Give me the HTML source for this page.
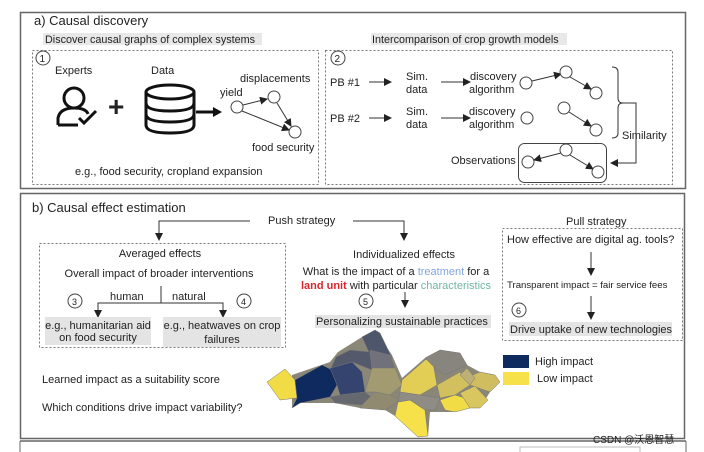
<!DOCTYPE html>
<html><head><meta charset="utf-8"><style>
body{margin:0;background:#fff;width:704px;height:452px;overflow:hidden}
svg{display:block}
text{font-family:"Liberation Sans","Noto Sans CJK SC",sans-serif;fill:#222}
</style></head><body>
<svg width="704" height="452" viewBox="0 0 704 452" xmlns="http://www.w3.org/2000/svg">
<defs>
<marker id="ah" markerWidth="8" markerHeight="8" refX="7" refY="4" orient="auto" markerUnits="userSpaceOnUse"><path d="M0,0 L8,4 L0,8 z" fill="#222"/></marker>
</defs>
<rect x="20.5" y="12.5" width="665" height="176" fill="none" stroke="#666" stroke-width="1.5"/>
<text x="34" y="25" font-size="13">a) Causal discovery</text>
<rect x="43" y="33" width="219" height="12" fill="#e8e8e8"/>
<text x="45" y="43" font-size="10.8">Discover causal graphs of complex systems</text>
<rect x="371" y="33" width="196" height="12" fill="#e8e8e8"/>
<text x="372" y="43" font-size="10.8">Intercomparison of crop growth models</text>
<rect x="32.5" y="50.5" width="286" height="134" fill="none" stroke="#777" stroke-dasharray="2,2"/>
<rect x="325.5" y="50.5" width="347" height="134" fill="none" stroke="#777" stroke-dasharray="2,2"/>
<circle cx="43" cy="58" r="7" fill="#fff" stroke="#444"/><text x="39.5" y="62" font-size="10">1</text>
<text x="55" y="74" font-size="11">Experts</text>
<text x="151" y="74" font-size="11">Data</text>
<circle cx="74" cy="98" r="10" fill="none" stroke="#111" stroke-width="3"/>
<path d="M58,125 L58,118 Q60,108 74,108 Q86,108 88,114" fill="none" stroke="#111" stroke-width="3"/>
<path d="M58,125 L78,125" stroke="#111" stroke-width="3"/>
<path d="M79,118 L84,123 L96,111" fill="none" stroke="#111" stroke-width="3"/>
<text x="108" y="116" font-size="28" font-weight="bold" fill="#111">+</text>
<g fill="none" stroke="#111" stroke-width="3">
<ellipse cx="170" cy="92" rx="24" ry="7"/>
<path d="M146,92 V125 Q146,133 170,133 Q194,133 194,125 V92"/>
<path d="M146,103 Q146,111 170,111 Q194,111 194,103"/>
<path d="M146,114 Q146,122 170,122 Q194,122 194,114"/>
</g>
<line x1="196" y1="112" x2="214" y2="112" stroke="#111" stroke-width="3"/>
<path d="M213,107 L222,112 L213,117z" fill="#111"/>
<text x="220" y="96" font-size="11">yield</text>
<text x="240" y="82" font-size="11">displacements</text>
<text x="252" y="151" font-size="11">food security</text>
<g fill="#fff" stroke="#444"><circle cx="237" cy="107" r="6"/><circle cx="274" cy="97" r="6"/><circle cx="295" cy="132" r="6"/></g>
<g stroke="#333" marker-end="url(#ah)"><line x1="243" y1="105" x2="267" y2="99"/><line x1="277" y1="103" x2="291" y2="126"/><line x1="242" y1="111" x2="289" y2="130"/></g>
<text x="75" y="175" font-size="11">e.g., food security, cropland expansion</text>
<circle cx="338" cy="58" r="7" fill="#fff" stroke="#444"/><text x="334.5" y="62" font-size="10">2</text>
<g font-size="11">
<text x="330" y="86">PB #1</text><text x="330" y="122">PB  #2</text>
<text x="406" y="80">Sim.</text><text x="406" y="93">data</text>
<text x="406" y="115">Sim.</text><text x="406" y="128">data</text>
<text x="470" y="80">discovery</text><text x="469" y="93">algorithm</text>
<text x="469" y="115">discovery</text><text x="469" y="128">algorithm</text>
<text x="622" y="139">Similarity</text>
<text x="451" y="164">Observations</text>
</g>
<g stroke="#333" marker-end="url(#ah)">
<line x1="369" y1="82" x2="391" y2="82"/><line x1="441" y1="82" x2="470" y2="82"/>
<line x1="369" y1="118" x2="391" y2="118"/><line x1="441" y1="118" x2="470" y2="118"/>
<line x1="532" y1="81" x2="561" y2="74"/><line x1="570" y1="77" x2="591" y2="89"/>
<line x1="569" y1="112" x2="591" y2="126"/>
<line x1="561" y1="153" x2="534" y2="160"/><line x1="570" y1="155" x2="593" y2="169"/>
</g>
<g fill="#fff" stroke="#444">
<circle cx="526" cy="83" r="6"/><circle cx="566" cy="72" r="6"/><circle cx="596" cy="93" r="6"/>
<circle cx="527" cy="118" r="6"/><circle cx="564" cy="108" r="6"/><circle cx="596" cy="130" r="6"/>
</g>
<rect x="518.5" y="143.5" width="88" height="39" rx="6" fill="none" stroke="#444"/>
<g fill="#fff" stroke="#444"><circle cx="528" cy="162" r="6"/><circle cx="566" cy="150" r="6"/><circle cx="598" cy="172" r="6"/></g>
<path d="M612,67 Q618,67 618,72 V98 Q618,103 623,103 Q618,103 618,108 V133 Q618,138 612,138" fill="none" stroke="#333"/>
<path d="M623,103 H636 V163 H611" fill="none" stroke="#333" marker-end="url(#ah)"/>
<rect x="20.5" y="193.5" width="664" height="245" fill="none" stroke="#666" stroke-width="1.5"/>
<line x1="20" y1="441" x2="686" y2="441" stroke="#666" stroke-width="1.5"/>
<line x1="20" y1="441" x2="20" y2="452" stroke="#666"/><line x1="686" y1="441" x2="686" y2="452" stroke="#666"/>
<rect x="520" y="447" width="120" height="8" fill="none" stroke="#bbb"/>
<text x="32" y="212" font-size="13">b) Causal effect estimation</text>
<text x="268" y="224" font-size="11">Push strategy</text>
<path d="M250,221 H159 V240" fill="none" stroke="#333" marker-end="url(#ah)"/>
<path d="M353,221 H404 V240" fill="none" stroke="#333" marker-end="url(#ah)"/>
<rect x="39.5" y="243.5" width="246" height="104" fill="none" stroke="#777" stroke-dasharray="2,2"/>
<text x="160" y="257" font-size="11" text-anchor="middle">Averaged effects</text>
<text x="159" y="277" font-size="11" text-anchor="middle">Overall impact of broader interventions</text>
<path d="M161,286 V303" stroke="#333"/>
<path d="M161,303 H98 V317" fill="none" stroke="#333" marker-end="url(#ah)"/>
<path d="M161,303 H223 V317" fill="none" stroke="#333" marker-end="url(#ah)"/>
<text x="110" y="300" font-size="11">human</text><text x="172" y="300" font-size="11">natural</text>
<circle cx="75" cy="301" r="7" fill="#fff" stroke="#444"/><text x="72" y="305" font-size="9">3</text>
<circle cx="244" cy="301" r="7" fill="#fff" stroke="#444"/><text x="241" y="305" font-size="9">4</text>
<rect x="45" y="317" width="106" height="28" fill="#e4e4e4"/>
<rect x="163" y="317" width="118" height="30" fill="#e4e4e4"/>
<text x="98" y="329" font-size="11" text-anchor="middle">e.g., humanitarian aid</text>
<text x="98" y="341" font-size="11" text-anchor="middle">on food security</text>
<text x="222" y="329" font-size="11" text-anchor="middle">e.g., heatwaves on crop</text>
<text x="222" y="343" font-size="11" text-anchor="middle">failures</text>
<text x="404" y="258" font-size="11" text-anchor="middle">Individualized effects</text>
<text x="396" y="275" font-size="11" text-anchor="middle">What is the impact of a <tspan fill="#7fa6e0">treatment</tspan> for a</text>
<text x="396" y="289" font-size="11" text-anchor="middle"><tspan fill="#d8262c" font-weight="bold">land unit</tspan> with particular <tspan fill="#6fb8a0">characteristics</tspan></text>
<line x1="405" y1="292" x2="405" y2="307" stroke="#333" marker-end="url(#ah)"/>
<circle cx="366" cy="301" r="7" fill="#fff" stroke="#444"/><text x="363" y="305" font-size="9">5</text>
<rect x="315" y="315" width="176" height="13" fill="#e4e4e4"/>
<text x="316" y="325" font-size="11">Personalizing sustainable practices</text>
<text x="566" y="225" font-size="11">Pull strategy</text>
<rect x="502.5" y="228.5" width="180" height="112" fill="none" stroke="#777" stroke-dasharray="2,2"/>
<text x="507" y="243" font-size="11">How effective are digital ag. tools?</text>
<line x1="591" y1="252" x2="591" y2="275" stroke="#333" marker-end="url(#ah)"/>
<text x="507" y="288" font-size="9.6">Transparent impact = fair service fees</text>
<line x1="591" y1="296" x2="591" y2="319" stroke="#333" marker-end="url(#ah)"/>
<circle cx="519" cy="310" r="7" fill="#fff" stroke="#444"/><text x="516" y="314" font-size="9">6</text>
<rect x="509" y="322" width="163" height="14" fill="#e4e4e4"/>
<text x="510" y="333" font-size="11">Drive uptake of new technologies</text>
<rect x="503" y="355" width="26" height="13" fill="#0e2a5e"/>
<rect x="503" y="372" width="26" height="13" fill="#f6e14a"/>
<text x="535" y="365" font-size="11">High impact</text>
<text x="537" y="382" font-size="11">Low impact</text>
<text x="42" y="383" font-size="11">Learned impact as a suitability score</text>
<text x="42" y="411" font-size="11">Which conditions drive impact variability?</text>
<!-- map -->
<polygon points="292,375 330,362 338,352 362,337 375,330 392,355 402,378 425,358 440,350 460,353 467,365 480,372 495,375 500,382 490,392 485,400 470,408 455,412 430,412 428,436 418,437 395,416 385,410 360,408 335,403 300,403 292,408" fill="#8a8778"/>
<g stroke="#777" stroke-width="0.5">
<polygon points="267,382 285,369 295,380 297,398 280,400" fill="#f2dc46"/>
<polygon points="295,380 322,365 332,370 337,385 330,397 300,403 292,408 297,398" fill="#0e2a5e"/>
<polygon points="330,368 352,362 362,372 365,392 340,395 337,385" fill="#34446e"/>
<polygon points="336,357 350,350 370,352 372,370 352,362 331,368" fill="#55596c"/>
<polygon points="362,337 375,330 380,333 392,358 372,360 368,350" fill="#4e566c"/>
<polygon points="370,350 390,355 395,368 372,368" fill="#70717a"/>
<polygon points="330,397 340,395 365,392 375,400 362,405 335,403" fill="#66686f"/>
<polygon points="372,368 395,368 402,385 390,395 375,392 365,392" fill="#a29a70"/>
<polygon points="375,392 390,395 400,400 385,410 360,408 362,405" fill="#8f8a70"/>
<polygon points="402,380 425,360 432,357 437,385 420,395 400,392" fill="#e2cd55"/>
<polygon points="425,358 440,350 460,353 467,365 445,375 437,370" fill="#87857e"/>
<polygon points="398,402 410,400 425,410 428,436 418,437 395,416" fill="#f6e14a"/>
<polygon points="400,392 420,395 440,398 435,410 425,410 410,400 398,402" fill="#8e8c84"/>
<polygon points="437,385 460,372 470,385 455,395 440,398" fill="#d2c05e"/>
<polygon points="440,400 455,395 465,398 470,408 455,412 445,410" fill="#f2dc46"/>
<polygon points="465,378 480,372 495,375 500,382 490,392 470,385" fill="#cfbd60"/>
<polygon points="460,393 475,386 488,400 480,408 470,408" fill="#d9c65e"/>
<polygon points="460,375 467,368 475,378 470,385" fill="#bcb075"/>
</g>
<text x="593" y="443" font-size="10" fill="#bbb">CSDN @沃恩智慧</text>
</svg>
</body></html>
